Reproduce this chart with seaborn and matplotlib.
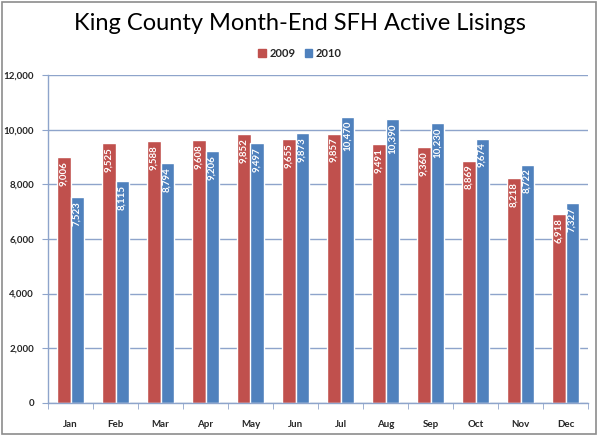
import numpy as np
import pandas as pd
import matplotlib
matplotlib.use("Agg")
import matplotlib.pyplot as plt
import seaborn as sns
from matplotlib.patches import Rectangle

months = ["Jan", "Feb", "Mar", "Apr", "May", "Jun", "Jul", "Aug", "Sep", "Oct", "Nov", "Dec"]
listings_2009 = [9006, 9525, 9588, 9608, 9852, 9655, 9857, 9491, 9360, 8869, 8218, 6918]
listings_2010 = [7523, 8115, 8794, 9206, 9497, 9873, 10470, 10390, 10230, 9674, 8722, 7327]
years = ["2009", "2010"]

df = pd.DataFrame({
    "month": months * 2,
    "year": [years[0]] * 12 + [years[1]] * 12,
    "listings": listings_2009 + listings_2010,
})

sns.set_style("white")
plt.rcParams["font.family"] = ["Lato", "DejaVu Sans"]

fig = plt.figure(figsize=(6, 4.36), dpi=100)
ax = fig.add_axes([0.08, 0.076, 0.9, 0.752])

palette = {"2009": "#C0504D", "2010": "#4F81BD"}
sns.barplot(data=df, x="month", y="listings", hue="year", palette=palette,
            width=0.58, saturation=1, ax=ax, legend=False)

# value labels inside bars, near top
for cont in ax.containers:
    labels = [f"{int(v):,}" for v in cont.datavalues]
    txts = ax.bar_label(cont, labels=labels, label_type="edge", padding=-3, rotation=90,
                        color="white", fontsize=7, fontweight="bold")
    for t in txts:
        t.set_verticalalignment("top")

ax.set_ylim(0, 12000)
ax.set_xlim(-0.5, 11.5)
ax.set_yticks(np.arange(0, 12001, 2000))
ax.set_yticklabels([f"{v:,}" for v in range(0, 12001, 2000)], fontsize=7, fontweight="bold")
ax.set_xticks(np.arange(12))
ax.set_xticklabels(months, fontsize=7, fontweight="bold")
ax.set_xlabel("")
ax.set_ylabel("")
ax.yaxis.grid(True, color="#8EA4CB", linewidth=1)
ax.set_axisbelow(True)

for side in ["top", "right"]:
    ax.spines[side].set_visible(False)
for side in ["left", "bottom"]:
    ax.spines[side].set_color("#8EA4CB")
    ax.spines[side].set_linewidth(1)

ax.tick_params(axis="x", length=0, pad=12)
ax.tick_params(axis="y", length=4, direction="out", color="#8EA4CB", left=True, pad=6)
# x tick marks between categories
ax.set_xticks(np.arange(-0.5, 12, 1), minor=True)
ax.tick_params(axis="x", which="minor", length=4, direction="out", color="#8EA4CB", bottom=True)

fig.text(0.5, 0.945, "King County Month-End SFH Active Lisings", ha="center", va="center",
         fontsize=17, color="black")

handles = [Rectangle((0, 0), 1, 1, color=palette[y]) for y in years]
fig.legend(handles, years, loc="center", bbox_to_anchor=(0.5, 0.878), ncol=2, frameon=False,
           prop={"size": 8, "weight": "bold"}, handlelength=0.7, handleheight=0.7,
           handletextpad=0.3, columnspacing=0.8)

fig.patches.append(Rectangle((0.003, 0.005), 0.99, 0.99, transform=fig.transFigure,
                             fill=False, edgecolor="#8C8C8C", linewidth=1.2))

fig.savefig("out.png", dpi=100)
